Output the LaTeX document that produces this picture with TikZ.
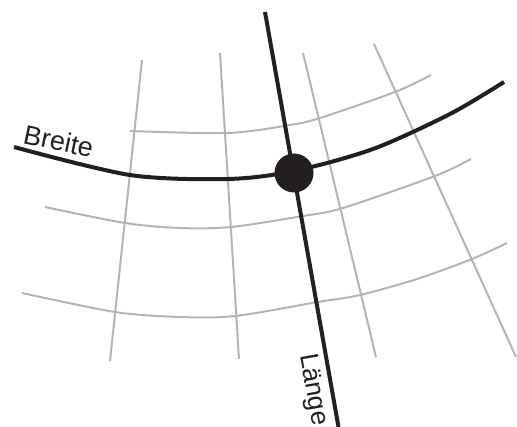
\documentclass[tikz,border=0pt]{standalone}
\usepackage{fontspec}
\setmainfont{Liberation Sans}
\usetikzlibrary{positioning}
\definecolor{tinte}{RGB}{35,31,32}
\definecolor{netzgrau}{RGB}{178,181,184}

\begin{document}
\begin{tikzpicture}[x=1pt, y=-1pt,
      gitter/.style={draw=netzgrau, line width=2pt},
      achse/.style={draw=tinte, line width=4pt},
      punkt/.style={circle, fill=tinte, minimum size=39pt, inner sep=0pt},
      beschr/.style={font=\fontsize{27}{30}\selectfont, text=tinte, inner sep=0pt}]
    \useasboundingbox (0,0) rectangle (517,427);

    % Meridiane
    \draw[gitter] (142,60) -- (110,361);
    \draw[gitter] (220,53) -- (239,359);
    \draw[gitter] (303,53) -- (376,357);
    \draw[gitter] (374,44) -- (516,357);

    % Breitenkreise
    \draw[gitter] plot[smooth] coordinates {(130,131) (228,133) (290,125) (320,118) (395,92) (431,75)};
    \draw[gitter] plot[smooth] coordinates {(45,207) (125,223) (180,228) (231,227) (303,216) (343,208) (435,176) (471,159)};
    \draw[gitter] plot[smooth] coordinates {(22,293) (115,312) (180,317) (235,316) (318,302) (360,295) (417,279) (472,259) (507,243)};

    % Breite
    \draw[achse] plot[smooth] coordinates {(14,147) (130,175) (228,179) (294,171) (373,149) (450,114) (504,82)};
    \node[beschr, anchor=base west, rotate=-12] (breite) at (22,143) {Breite};

    % Laenge
    \coordinate (laengeN) at (265,12);
    \coordinate (laengeS) at (338.5,427);
    \draw[achse] (laengeN) -- (laengeS);
    \node[beschr, font=\fontsize{26}{30}\selectfont, anchor=base west, rotate=-80] (laenge) at (300,355) {Länge};

    % Schnittpunkt
    \node[punkt] (ort) at (294,173) {};
  \end{tikzpicture}
\end{document}
